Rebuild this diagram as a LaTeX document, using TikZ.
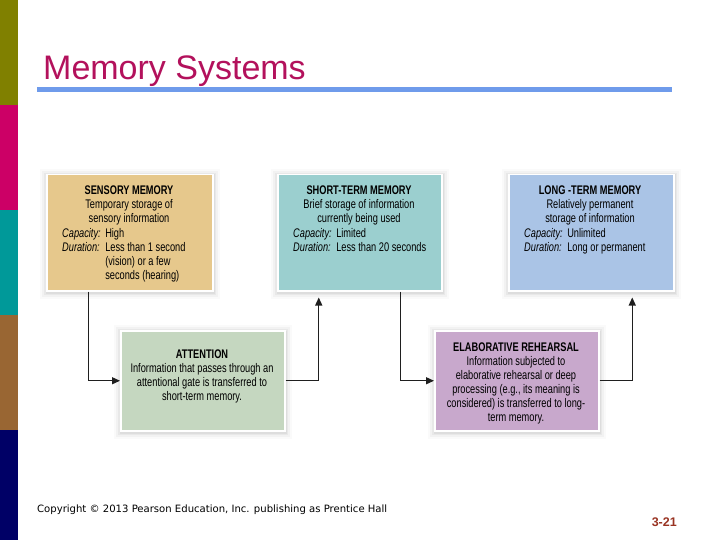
\documentclass[tikz,border=0pt]{standalone}
\usepackage{fontspec}
\setmainfont{Liberation Sans}
\newfontfamily\cond[FakeStretch=0.74]{Liberation Sans}
\newfontfamily\dvs{DejaVu Sans}
\usetikzlibrary{arrows.meta}
\definecolor{barolive}{HTML}{808000}
\definecolor{barmag}{HTML}{CC0066}
\definecolor{barteal}{HTML}{009999}
\definecolor{barbrown}{HTML}{996633}
\definecolor{barnavy}{HTML}{000066}
\definecolor{titlecol}{HTML}{B3115C}
\definecolor{rulecol}{HTML}{6F9BEB}
\definecolor{senscol}{HTML}{E6C88C}
\definecolor{stmcol}{HTML}{9BCFCF}
\definecolor{ltmcol}{HTML}{AAC4E6}
\definecolor{attcol}{HTML}{C5D7C0}
\definecolor{elabcol}{HTML}{C8A8CC}
\definecolor{pagenum}{HTML}{993322}
\newcommand\mshadow[4]{%
  \foreach \d/\o in {7/0.02,5/0.03,3/0.04,1.5/0.045}{%
    \fill[black,opacity=\o] (#1-\d+1,#2-\d+2) rectangle (#3+\d+1,#4+\d+2);}}
\begin{document}
\begin{tikzpicture}[x=1pt,y=-1pt,
  memobox/.style={draw=white, line width=1.5pt, inner sep=0pt, anchor=north west},
  hdr/.style={font=\cond\fontsize{12.5}{14}\selectfont, align=center, inner sep=0pt, anchor=north},
  det/.style={font=\cond\fontsize{12.5}{14}\selectfont, inner sep=0pt, anchor=north west},
  arr/.style={draw=black!88, line width=1.3pt, -{Triangle[length=8pt,width=7pt]}}]
\useasboundingbox (0,0) rectangle (720,540);
\fill[white] (0,0) rectangle (720,540);
% left bar
\fill[barolive] (0,0) rectangle (18,105);
\fill[barmag] (0,105) rectangle (18,210);
\fill[barteal] (0,210) rectangle (18,315);
\fill[barbrown] (0,315) rectangle (18,430);
\fill[barnavy] (0,430) rectangle (18,540);
% title
\node[font=\fontsize{34}{36}\selectfont, text=titlecol, anchor=base west, inner sep=0pt] (title) at (43,80) {Memory Systems};
\fill[rulecol] (37,87) rectangle (672,92);
% shadows
\mshadow{46}{174}{212}{290}
\mshadow{277}{174}{441}{290}
\mshadow{508}{174}{673}{290}
\mshadow{120}{330}{284}{430}
\mshadow{434}{330}{598}{430}
% boxes
\node[memobox, fill=senscol, minimum width=166pt, minimum height=116pt] (sens) at (46,174) {};
\node[memobox, fill=stmcol, minimum width=164pt, minimum height=116pt] (stm) at (277,174) {};
\node[memobox, fill=ltmcol, minimum width=165pt, minimum height=116pt] (ltm) at (508,174) {};
\node[memobox, fill=attcol, minimum width=164pt, minimum height=100pt] (att) at (120,330) {};
\node[memobox, fill=elabcol, minimum width=164pt, minimum height=100pt] (elab) at (434,330) {};
% texts
\node[hdr] (senst) at (129,185.5) {\textbf{SENSORY MEMORY}\\Temporary storage of\\sensory information};
\node[det] (sensd) at (62,227.5) {\begin{tabular}{@{}l@{\hspace{4.5pt}}l@{}}
\textit{Capacity:} & High\\
\textit{Duration:} & Less than 1 second\\
 & (vision) or a few\\
 & seconds (hearing)
\end{tabular}};
\node[hdr] (stmt) at (359,185.5) {\textbf{SHORT-TERM MEMORY}\\Brief storage of information\\currently being used};
\node[det] (stmd) at (293,227.5) {\begin{tabular}{@{}l@{\hspace{4.5pt}}l@{}}
\textit{Capacity:} & Limited\\
\textit{Duration:} & Less than 20 seconds
\end{tabular}};
\node[hdr] (ltmt) at (590,185.5) {\textbf{LONG -TERM MEMORY}\\Relatively permanent\\storage of information};
\node[det] (ltmd) at (524,227.5) {\begin{tabular}{@{}l@{\hspace{4.5pt}}l@{}}
\textit{Capacity:} & Unlimited\\
\textit{Duration:} & Long or permanent
\end{tabular}};
\node[hdr] (attt) at (202,349.5) {\textbf{ATTENTION}\\Information that passes through an\\attentional gate is transferred to\\short-term memory.};
\node[hdr] (elabt) at (516,342.5) {\textbf{ELABORATIVE REHEARSAL}\\Information subjected to\\elaborative rehearsal or deep\\processing (e.g., its meaning is\\considered) is transferred to long-\\term memory.};
% connectors
\draw[arr] ([xshift=-41pt]sens.south) |- (att.west);
\draw[arr, shorten >=6pt] (att.east) -| ([xshift=-41pt]stm.south);
\draw[arr] ([xshift=41pt]stm.south) |- (elab.west);
\draw[arr, shorten >=6pt] (elab.east) -| ([xshift=41pt]ltm.south);
% footer
\node[anchor=base west, inner sep=0pt] (copy) at (37,512) {\resizebox{350pt}{!}{\dvs Copyright © 2013 Pearson Education, Inc. publishing as Prentice Hall}};
\node[anchor=base east, inner sep=0pt, text=pagenum, font=\fontsize{12.5}{14}\selectfont\bfseries] (pnum) at (677,526) {3-21};
\end{tikzpicture}
\end{document}
